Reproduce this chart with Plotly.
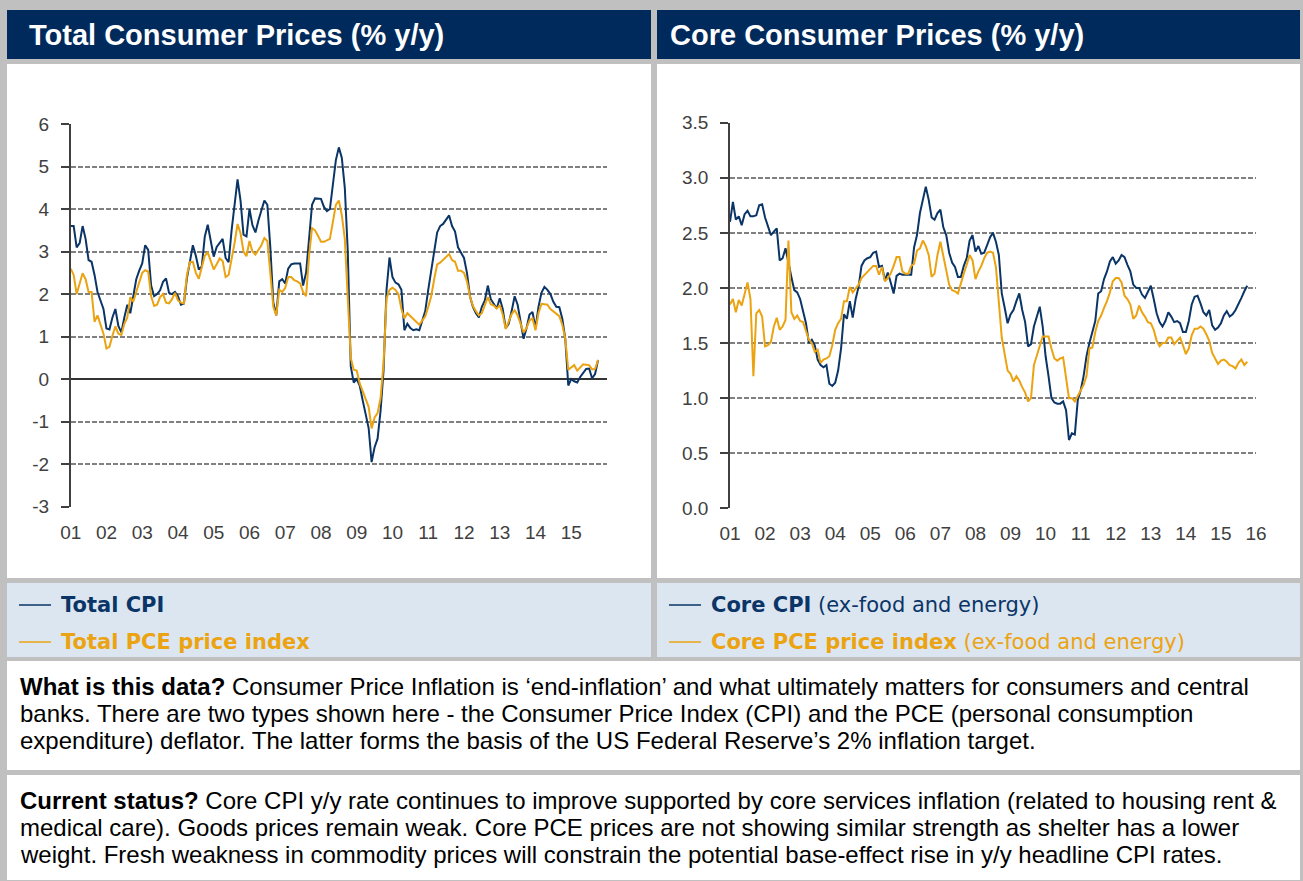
import plotly.graph_objects as go

# ---------------- data (monthly, Jan 2001 .. Oct 2015) ----------------
total_cpi = (
    [3.6, 3.6, 3.1, 3.2, 3.6, 3.3, 2.8, 2.76, 2.45, 2.05, 1.85, 1.65] +
    [1.19, 1.17, 1.45, 1.65, 1.25, 1.1, 1.45, 1.75, 1.55, 1.98, 2.35, 2.55] +
    [2.72, 3.15, 3.04, 2.2, 1.95, 2.0, 2.09, 2.29, 2.37, 2.03, 2.0, 2.05] +
    [1.95, 1.75, 1.78, 2.37, 2.8, 3.15, 2.9, 2.58, 2.65, 3.35, 3.63, 3.25] +
    [2.88, 3.11, 3.2, 3.3, 2.85, 2.75, 3.5, 4.1, 4.7, 4.2, 3.4, 3.36] +
    [4.0, 3.62, 3.45, 3.73, 3.98, 4.2, 4.1, 3.1, 1.8, 1.5, 2.3, 2.35] +
    [2.25, 2.6, 2.7, 2.72, 2.72, 2.72, 2.2, 2.5, 3.3, 4.1, 4.25, 4.25] +
    [4.24, 4.05, 3.95, 4.0, 4.6, 5.15, 5.45, 5.2, 4.5, 3.0, 0.3, -0.08] +
    [0.0, -0.15, -0.5, -0.85, -1.15, -1.95, -1.6, -1.4, -0.75, 0.2, 2.1, 2.86] +
    [2.4, 2.27, 2.23, 2.1, 1.15, 1.3, 1.2, 1.15, 1.17, 1.15, 1.4, 1.6] +
    [2.1, 2.5, 3.0, 3.45, 3.6, 3.65, 3.75, 3.85, 3.6, 3.47, 3.1, 2.98] +
    [2.85, 2.5, 1.95, 1.7, 1.55, 1.45, 1.7, 1.85, 2.2, 1.88, 1.76, 1.66] +
    [1.9, 1.65, 1.2, 1.3, 1.6, 1.95, 1.75, 1.35, 0.95, 1.2, 1.52, 1.58] +
    [1.2, 1.7, 2.03, 2.17, 2.1, 2.0, 1.82, 1.7, 1.69, 1.42, 0.95, -0.15] +
    [0.0, -0.05, -0.08, 0.05, 0.15, 0.24, 0.25, 0.02, 0.12, 0.45]
)
total_pce = (
    [2.6, 2.45, 2.0, 2.25, 2.49, 2.35, 2.05, 2.05, 1.35, 1.5, 1.3, 1.07] +
    [0.72, 0.76, 1.02, 1.24, 1.07, 1.04, 1.3, 1.45, 1.93, 1.82, 2.05, 2.3] +
    [2.5, 2.56, 2.53, 1.95, 1.72, 1.75, 1.93, 2.0, 1.8, 1.78, 1.88, 2.03] +
    [1.85, 1.8, 1.78, 2.45, 2.75, 2.76, 2.5, 2.36, 2.6, 2.9, 2.98, 2.75] +
    [2.58, 2.7, 2.84, 2.78, 2.4, 2.45, 2.8, 3.2, 3.65, 3.43, 3.0, 2.89] +
    [3.25, 3.0, 2.93, 3.05, 3.15, 3.32, 3.25, 2.5, 1.7, 1.5, 2.1, 2.05] +
    [2.15, 2.4, 2.4, 2.33, 2.3, 2.25, 2.05, 1.95, 2.9, 3.55, 3.5, 3.37] +
    [3.23, 3.23, 3.27, 3.3, 3.7, 4.1, 4.2, 3.85, 3.3, 1.7, 0.5, 0.22] +
    [0.2, -0.1, -0.28, -0.45, -0.65, -1.16, -0.9, -0.8, -0.45, 0.37, 1.9, 2.1] +
    [2.15, 2.1, 2.0, 1.65, 1.43, 1.55, 1.48, 1.42, 1.35, 1.28, 1.38, 1.47] +
    [1.7, 1.95, 2.35, 2.7, 2.74, 2.8, 2.86, 2.94, 2.8, 2.76, 2.55, 2.55] +
    [2.5, 2.3, 1.95, 1.72, 1.6, 1.5, 1.55, 1.75, 1.93, 1.76, 1.73, 1.66] +
    [1.74, 1.52, 1.18, 1.35, 1.53, 1.62, 1.5, 1.3, 1.1, 1.2, 1.38, 1.43] +
    [1.15, 1.55, 1.77, 1.76, 1.75, 1.65, 1.6, 1.55, 1.48, 1.28, 0.95, 0.22] +
    [0.28, 0.33, 0.2, 0.28, 0.35, 0.34, 0.33, 0.23, 0.24, 0.45]
)
core_cpi = (
    [2.6, 2.78, 2.62, 2.65, 2.57, 2.67, 2.7, 2.65, 2.65, 2.66, 2.75, 2.76] +
    [2.64, 2.56, 2.48, 2.51, 2.54, 2.25, 2.27, 2.36, 2.22, 2.1, 1.98, 1.96] +
    [1.9, 1.78, 1.68, 1.5, 1.53, 1.48, 1.35, 1.3, 1.28, 1.3, 1.13, 1.11] +
    [1.14, 1.25, 1.45, 1.76, 1.72, 1.88, 1.73, 1.9, 2.01, 2.2, 2.25, 2.27] +
    [2.28, 2.32, 2.33, 2.19, 2.2, 2.07, 2.14, 2.05, 1.95, 2.11, 2.13, 2.12] +
    [2.12, 2.12, 2.12, 2.37, 2.48, 2.68, 2.8, 2.92, 2.8, 2.64, 2.62, 2.68] +
    [2.71, 2.55, 2.48, 2.32, 2.23, 2.19, 2.1, 2.1, 2.2, 2.27, 2.43, 2.48] +
    [2.33, 2.38, 2.31, 2.32, 2.39, 2.46, 2.5, 2.42, 2.3, 1.95, 1.82, 1.68] +
    [1.76, 1.8, 1.88, 1.95, 1.8, 1.69, 1.47, 1.49, 1.65, 1.73, 1.83, 1.65] +
    [1.38, 1.2, 1.0, 0.96, 0.95, 0.95, 0.97, 0.89, 0.62, 0.68, 0.67, 0.98] +
    [1.07, 1.2, 1.38, 1.5, 1.59, 1.7, 1.95, 1.97, 2.08, 2.15, 2.24, 2.28] +
    [2.22, 2.25, 2.3, 2.28, 2.21, 2.15, 2.03, 2.0, 2.0, 1.94, 1.91, 1.96] +
    [2.02, 1.9, 1.77, 1.69, 1.65, 1.7, 1.78, 1.74, 1.69, 1.7, 1.68, 1.6] +
    [1.6, 1.7, 1.85, 1.92, 1.93, 1.86, 1.78, 1.75, 1.8, 1.66, 1.62, 1.64] +
    [1.68, 1.75, 1.79, 1.74, 1.76, 1.8, 1.85, 1.91, 1.97, 2.02]
)
core_pce = (
    [1.85, 1.9, 1.78, 1.89, 1.84, 1.95, 2.05, 1.9, 1.2, 1.77, 1.8, 1.74] +
    [1.47, 1.48, 1.51, 1.65, 1.73, 1.62, 1.65, 1.71, 2.43, 1.78, 1.72, 1.75] +
    [1.7, 1.69, 1.6, 1.53, 1.5, 1.42, 1.44, 1.32, 1.35, 1.36, 1.38, 1.48] +
    [1.62, 1.68, 1.72, 1.88, 1.88, 2.01, 1.96, 1.99, 2.03, 2.09, 2.12, 2.15] +
    [2.18, 2.2, 2.2, 2.12, 2.19, 2.06, 2.09, 2.13, 2.2, 2.28, 2.28, 2.15] +
    [2.13, 2.13, 2.2, 2.22, 2.34, 2.36, 2.43, 2.38, 2.3, 2.1, 2.13, 2.3] +
    [2.42, 2.3, 2.16, 2.03, 1.98, 1.97, 1.95, 2.05, 2.13, 2.21, 2.3, 2.25] +
    [2.08, 2.15, 2.2, 2.27, 2.32, 2.33, 2.32, 2.19, 1.85, 1.55, 1.4, 1.25] +
    [1.22, 1.15, 1.2, 1.16, 1.1, 1.05, 0.97, 1.0, 1.3, 1.39, 1.47, 1.56] +
    [1.56, 1.56, 1.45, 1.36, 1.34, 1.36, 1.37, 1.2, 1.0, 1.0, 0.97, 1.02] +
    [1.07, 1.12, 1.2, 1.45, 1.46, 1.6, 1.7, 1.75, 1.82, 1.88, 1.96, 2.06] +
    [2.09, 2.09, 2.05, 1.93, 1.9, 1.85, 1.72, 1.75, 1.84, 1.78, 1.74, 1.69] +
    [1.68, 1.62, 1.52, 1.47, 1.5, 1.5, 1.55, 1.55, 1.49, 1.52, 1.55, 1.48] +
    [1.4, 1.45, 1.57, 1.63, 1.63, 1.65, 1.63, 1.58, 1.52, 1.41, 1.36, 1.31] +
    [1.34, 1.35, 1.33, 1.3, 1.29, 1.27, 1.32, 1.35, 1.3, 1.33]
)
start_year = 2001
months = [start_year + i / 12 for i in range(len(total_cpi))]

left_years = list(range(2001, 2016))
right_years = list(range(2001, 2017))
left_ticktext = [f"{y % 100:02d}" for y in left_years]
right_ticktext = [f"{y % 100:02d}" for y in right_years]
left_yvals = list(range(-3, 7))
left_ylabels = [str(v) for v in left_yvals]   # plain hyphen-minus as in the original

title_left = "Total Consumer Prices (% y/y)"
title_right = "Core Consumer Prices (% y/y)"
box1 = [
    "<b>What is this data?</b> Consumer Price Inflation is \u2018end-inflation\u2019 and what ultimately matters for consumers and central",
    "banks. There are two types shown here - the Consumer Price Index (CPI) and the PCE (personal consumption",
    "expenditure) deflator. The latter forms the basis of the US Federal Reserve\u2019s 2% inflation target.",
]
box2 = [
    "<b>Current status?</b> Core CPI y/y rate continues to improve supported by core services inflation (related to housing rent &amp;",
    "medical care). Goods prices remain weak. Core PCE prices are not showing similar strength as shelter has a lower",
    "weight. Fresh weakness in commodity prices will constrain the potential base-effect rise in y/y headline CPI rates.",
]

# ---------------- styling ----------------
W, H = 1303, 881
NAVY = "#0A3566"
ORANGE = "#EBA311"
TITLE_BG = "#002A5C"
LEG_BG = "#DCE6F1"
GRID = "#808080"
AXC = "#404040"

def px(x):
    return x / W

def py(y):
    return 1 - y / H

fig = go.Figure()
fig.add_trace(go.Scatter(x=months, y=total_cpi, mode="lines", line=dict(color=NAVY, width=2),
                         name="Total CPI", xaxis="x", yaxis="y", showlegend=False))
fig.add_trace(go.Scatter(x=months, y=total_pce, mode="lines", line=dict(color=ORANGE, width=2),
                         name="Total PCE price index", xaxis="x", yaxis="y", showlegend=False))
fig.add_trace(go.Scatter(x=months, y=core_cpi, mode="lines", line=dict(color=NAVY, width=2),
                         name="Core CPI", xaxis="x2", yaxis="y2", showlegend=False))
fig.add_trace(go.Scatter(x=months, y=core_pce, mode="lines", line=dict(color=ORANGE, width=2),
                         name="Core PCE price index", xaxis="x2", yaxis="y2", showlegend=False))

tickfont = dict(family="Liberation Sans, Arial", size=19, color="#404040")

def rect(x0, y0, x1, y1, color):
    return dict(type="rect", xref="paper", yref="paper", x0=px(x0), x1=px(x1), y0=py(y1), y1=py(y0),
                fillcolor=color, line=dict(width=0), layer="below")

shapes = [
    rect(7, 10, 651, 59, TITLE_BG), rect(657, 10, 1300, 59, TITLE_BG),
    rect(7, 64, 651, 578, "white"), rect(657, 64, 1300, 578, "white"),
    rect(7, 583, 651, 657, LEG_BG), rect(657, 583, 1300, 657, LEG_BG),
    rect(7, 661, 1300, 770, "white"), rect(7, 775, 1300, 880, "white"),
]
for (x0, yy, c) in [(19, 605, NAVY), (19, 642, ORANGE), (669, 605, NAVY), (669, 642, ORANGE)]:
    shapes.append(dict(type="line", xref="paper", yref="paper", x0=px(x0), x1=px(x0 + 32),
                       y0=py(yy), y1=py(yy), line=dict(color=c, width=1.5)))

ann = []
def text(x, y, s, size, color, family, anchor="left"):
    ann.append(dict(text=s, x=px(x), y=py(y), xref="paper", yref="paper", xanchor=anchor,
                    yanchor="middle", showarrow=False, align="left",
                    font=dict(size=size, color=color, family=family)))

text(27, 35, f"<b>{title_left}</b>", 29, "white", "Liberation Sans, Arial")
text(668, 35, f"<b>{title_right}</b>", 29, "white", "Liberation Sans, Arial")
VFONT = "DejaVu Sans, Verdana"
text(59, 605, "<b>Total CPI</b>", 21, NAVY, VFONT)
text(59, 642, "<b>Total PCE price index</b>", 21, ORANGE, VFONT)
text(709, 605, "<b>Core CPI</b> (ex-food and energy)", 21, NAVY, VFONT)
text(709, 642, "<b>Core PCE price index</b> (ex-food and energy)", 21, ORANGE, VFONT)
for i, s in enumerate(box1):
    text(18, 686 + 27 * i, s, 24, "black", "Liberation Sans, Arial")
for i, s in enumerate(box2):
    text(18, 800 + 27 * i, s, 24, "black", "Liberation Sans, Arial")

common_y = dict(showgrid=True, gridcolor=GRID, gridwidth=1.5, griddash="5px,2px",
                showline=True, linecolor=AXC, linewidth=1.5, ticks="outside", ticklen=8,
                tickwidth=1.5, tickcolor=AXC, tickfont=tickfont, ticklabelstandoff=8,
                automargin=False)
common_x = dict(showgrid=False, zeroline=False, showline=False, ticks="", tickfont=tickfont,
                ticklabelstandoff=12, automargin=False)

fig.update_layout(
    width=W, height=H, margin=dict(l=0, r=0, t=0, b=0, pad=0, autoexpand=False),
    paper_bgcolor="#C0C0C0", plot_bgcolor="white",
    shapes=shapes, annotations=ann,
    xaxis=dict(domain=[px(70.7), px(607)], range=[2001, 2016], tickvals=left_years,
               ticktext=left_ticktext, anchor="y", **common_x),
    yaxis=dict(domain=[py(506.7), py(124)], range=[-3, 6], tickvals=left_yvals,
               ticktext=left_ylabels, anchor="x",
               zeroline=True, zerolinecolor="#333333", zerolinewidth=1.5, **common_y),
    xaxis2=dict(domain=[px(730), px(1256)], range=[2001, 2016], tickvals=right_years,
                ticktext=right_ticktext, anchor="y2", **common_x),
    yaxis2=dict(domain=[py(508.3), py(122.7)], range=[0, 3.5], dtick=0.5, tick0=0,
                tickformat=".1f", anchor="x2", zeroline=False, **common_y),
)

fig.write_html("out.html", config={"displayModeBar": False},
               post_script="document.body.style.margin='0';document.body.style.padding='0';"
                           "document.body.style.overflow='hidden';")
